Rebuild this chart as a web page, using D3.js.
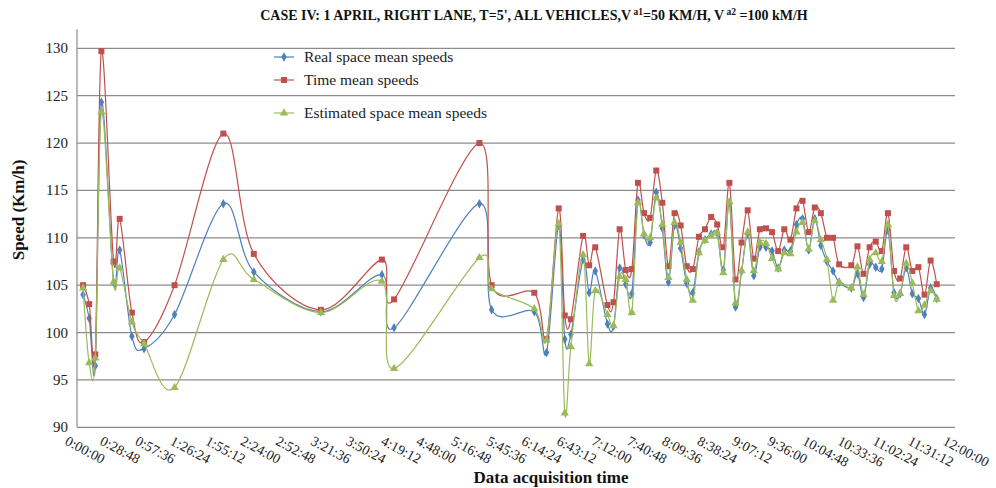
<!DOCTYPE html>
<html><head><meta charset="utf-8">
<script src="https://cdn.jsdelivr.net/npm/d3@7"></script>
<style>body{margin:0;background:#fff}svg{display:block}</style>
</head><body>
<svg id="c" width="996" height="488"></svg>
<script>
// data acquisition time, minutes after 0:00:00
const timesMin = [5,10,15,20,30,35,45,55,80,120,145,200,250,260,330,340,375,385,395,400,405,415,420,425,435,440,445,450,455,460,465,470,475,480,485,490,495,500,505,510,515,520,525,530,535,540,545,550,555,560,565,570,575,580,585,590,595,600,605,610,615,620,625,635,640,645,650,655,660,665,670,675,680,685,690,695,700,705];
const realSpace = [104.0,101.5,96.5,124.3,105.3,108.7,99.6,98.3,101.9,113.6,106.4,102.2,106.1,100.5,113.6,102.4,102.2,97.9,111.3,99.3,99.8,107.7,104.2,106.5,100.9,100.7,106.8,105.1,104.1,114.0,110.3,109.5,114.8,111.0,105.3,111.3,108.9,105.2,104.2,108.5,109.8,110.4,110.5,106.6,113.7,102.7,106.5,110.4,106.0,109.0,109.0,108.6,106.8,108.7,108.6,111.4,112.0,108.7,112.0,109.2,107.5,106.5,105.3,104.7,106.2,103.7,107.2,106.9,106.7,110.8,104.2,104.1,106.8,104.1,103.6,101.9,104.7,103.6];
const timeMean = [105.0,103.0,97.7,129.7,107.5,112.0,102.1,99.0,105.0,121.0,108.3,102.4,107.7,103.5,120.0,105.0,104.2,99.3,113.1,101.8,101.4,110.2,107.1,109.0,102.9,103.2,110.9,106.6,106.7,115.8,112.6,112.1,117.1,113.7,107.0,112.6,111.3,107.0,106.7,110.1,110.9,112.2,111.4,109.0,115.8,105.6,109.5,112.9,107.8,110.9,111.0,110.6,108.6,110.9,109.8,113.1,113.9,110.6,113.2,112.6,110.0,110.0,107.2,107.1,109.1,106.2,109.0,109.6,108.6,112.6,106.5,105.7,109.0,106.5,106.9,104.0,107.6,105.1];
const estSpace = [104.7,96.8,97.3,123.3,105.3,106.8,101.1,98.8,94.2,107.7,105.6,102.1,105.4,96.2,107.9,104.6,102.5,99.2,111.5,91.5,98.5,108.2,96.7,104.4,101.9,100.7,105.9,105.6,102.1,113.7,110.4,110.0,114.2,111.4,105.8,111.6,109.5,105.6,103.4,108.4,109.7,110.2,110.5,106.3,113.8,103.1,106.5,110.6,106.5,109.5,109.4,107.8,106.7,108.4,108.3,110.6,111.6,108.8,111.8,109.8,107.7,103.4,105.3,104.7,106.9,104.0,107.7,108.4,107.5,111.4,103.9,104.1,107.3,105.2,102.3,102.9,104.4,103.5];
const seriesNames = ["Real space mean speeds","Time mean speeds","Estimated space mean speeds"];
const xTickLabels = ["0:00:00","0:28:48","0:57:36","1:26:24","1:55:12","2:24:00","2:52:48","3:21:36","3:50:24","4:19:12","4:48:00","5:16:48","5:45:36","6:14:24","6:43:12","7:12:00","7:40:48","8:09:36","8:38:24","9:07:12","9:36:00","10:04:48","10:33:36","11:02:24","11:31:12","12:00:00"];
const yTicks = [90,95,100,105,110,115,120,125,130];

const svg = d3.select("#c");
const L = 77, R = 955, T = 48.3, B = 427.3;
const x = d3.scaleLinear().domain([0, 720]).range([L, R]);
const y = d3.scaleLinear().domain([90, 130]).range([B, T]);
const serif = "'Liberation Serif','Times New Roman',serif";
const grid = "#8c8c8c";

// gridlines
svg.append("g").selectAll("line").data(yTicks.filter(v => v > 90)).join("line")
  .attr("x1", L).attr("x2", R).attr("y1", d => y(d)).attr("y2", d => y(d))
  .attr("stroke", grid).attr("stroke-width", 1.2);
// axes lines
svg.append("line").attr("x1", L).attr("x2", L).attr("y1", y(132)).attr("y2", B).attr("stroke", grid).attr("stroke-width", 1.2);
svg.append("line").attr("x1", L).attr("x2", R).attr("y1", B).attr("y2", B).attr("stroke", grid).attr("stroke-width", 1.2);

// y tick labels
svg.append("g").selectAll("text").data(yTicks).join("text")
  .attr("x", 68).attr("y", d => y(d) + 5).attr("text-anchor", "end")
  .attr("font-family", serif).attr("font-size", 15).attr("fill", "#222").text(d => d);

// x tick labels
const xt = d3.scaleLinear().domain([0, xTickLabels.length - 1]).range([0, 720]);
svg.append("g").selectAll("text").data(xTickLabels).join("text")
  .attr("transform", (d, i) => `translate(${x(xt(i)) - 13},${444}) rotate(28)`)
  .attr("font-family", serif).attr("font-size", 14).attr("fill", "#222").text(d => d);

// titles
const title = svg.append("text").attr("x", 534).attr("y", 20).attr("text-anchor", "middle")
  .attr("font-family", serif).attr("font-weight", "bold").attr("font-size", 14).attr("fill", "#111");
title.append("tspan").text("CASE IV: 1 APRIL, RIGHT LANE, T=5', ALL VEHICLES,V");
title.append("tspan").attr("dy", -5).attr("font-size", 9.5).text(" a1");
title.append("tspan").attr("dy", 5).text("=50 KM/H, V");
title.append("tspan").attr("dy", -5).attr("font-size", 9.5).text(" a2");
title.append("tspan").attr("dy", 5).text(" =100 kM/H");

svg.append("text").attr("transform", "translate(24,210) rotate(-90)").attr("text-anchor", "middle")
  .attr("font-family", serif).attr("font-weight", "bold").attr("font-size", 17).attr("fill", "#111").text("Speed (Km/h)");
svg.append("text").attr("x", 551).attr("y", 483).attr("text-anchor", "middle")
  .attr("font-family", serif).attr("font-weight", "bold").attr("font-size", 17).attr("fill", "#111").text("Data acquisition time");

// series
const colors = ["#4F81BD", "#C0504D", "#9BBB59"];
const symbols = [d3.symbolDiamond, d3.symbolSquare, d3.symbolTriangle];
const sizes = [26, 36, 30];
const allSeries = [realSpace, timeMean, estSpace];
const line = d3.line().x(d => x(d[0])).y(d => y(d[1])).curve(d3.curveCatmullRom.alpha(0));

allSeries.forEach((vals, k) => {
  const pts = timesMin.map((t, i) => [t, vals[i]]);
  const g = svg.append("g");
  g.append("path").attr("d", line(pts)).attr("fill", "none").attr("stroke", colors[k]).attr("stroke-width", 1.2);
  g.selectAll("path.m").data(pts).join("path").attr("class", "m")
    .attr("transform", d => `translate(${x(d[0])},${y(d[1])})`)
    .attr("d", d3.symbol().type(symbols[k]).size(sizes[k])).attr("fill", colors[k]);
});

// legend
const legY = [57, 80, 113];
seriesNames.forEach((n, k) => {
  const g = svg.append("g");
  g.append("line").attr("x1", 274).attr("x2", 294).attr("y1", legY[k]).attr("y2", legY[k]).attr("stroke", colors[k]).attr("stroke-width", 1.2);
  g.append("path").attr("transform", `translate(284,${legY[k]})`).attr("d", d3.symbol().type(symbols[k]).size(sizes[k])).attr("fill", colors[k]);
  g.append("text").attr("x", 304).attr("y", legY[k] + 5).attr("font-family", serif).attr("font-size", 15.5).attr("fill", "#222").text(n);
});
</script>
</body></html>
